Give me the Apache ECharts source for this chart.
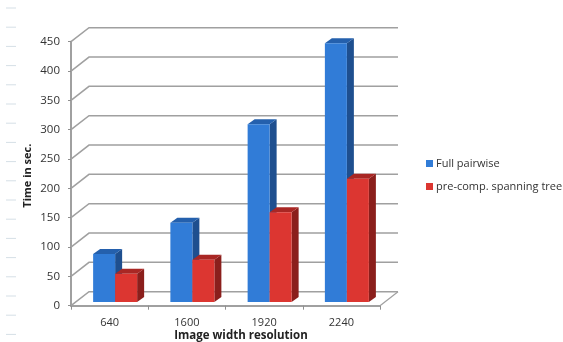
<!DOCTYPE html>
<html>
<head>
<meta charset="utf-8">
<style>html,body{margin:0;padding:0;background:#fff}#chart{width:563px;height:342px}</style>
<script src="https://cdn.jsdelivr.net/npm/echarts@6/dist/echarts.min.js"></script>
</head>
<body>
<div id="chart"></div>
<script>
const categories = ['640', '1600', '1920', '2240'];
const fullPairwise = [82, 135, 303, 441];
const spanningTree = [48, 72, 153, 210];
const valueTicks = [0, 50, 100, 150, 200, 250, 300, 350, 400, 450];
const seriesNames = ['Full pairwise', 'pre-comp. spanning tree'];

const FONT = '"Open Sans", "Noto Sans", sans-serif';
const WALL = { dx: 18, dy: -14 };      // shift from the front plane to the back wall
const BAR = { width: 22, dx: 7, dy: -5, shiftX: 5.5, shiftY: -3.7 };
const PALETTE = [
  { front: '#317cd7', top: '#2460ad', side: '#1e4f8f' },
  { front: '#dc3631', top: '#a92724', side: '#8b1f1c' }
];

// Walls of the 3D box: one polyline per tick, side wall then back wall
function renderWallLine(params, api) {
  const cs = params.coordSys;
  const y = api.coord([0, api.value(0)])[1];
  return {
    type: 'polyline',
    shape: { points: [
      [cs.x, y],
      [cs.x + WALL.dx, y + WALL.dy],
      [cs.x + cs.width + WALL.dx, y + WALL.dy]
    ] },
    style: { fill: 'none', stroke: '#a0a0a0', lineWidth: 1.5 }
  };
}

// Floor edge running from the front axis to the back wall on the right
function renderFloorEdge(params, api) {
  const cs = params.coordSys;
  const y = api.coord([0, 0])[1];
  return {
    type: 'line',
    shape: { x1: cs.x + cs.width, y1: y, x2: cs.x + cs.width + WALL.dx, y2: y + WALL.dy },
    style: { stroke: '#a0a0a0', lineWidth: 1.2 }
  };
}

// One cuboid: front face, top face, side face
function cuboid(seriesIndex) {
  return function (params, api) {
    const colors = PALETTE[seriesIndex];
    const base = api.coord([api.value(0), 0]);
    const head = api.coord([api.value(0), api.value(1)]);
    const x0 = base[0] + BAR.shiftX + (seriesIndex - 1) * BAR.width;
    const x1 = x0 + BAR.width;
    const yb = base[1] + BAR.shiftY;
    const yt = head[1] + BAR.shiftY;
    return {
      type: 'group',
      children: [
        { type: 'polygon', shape: { points: [[x1, yb], [x1 + BAR.dx, yb + BAR.dy], [x1 + BAR.dx, yt + BAR.dy], [x1, yt]] },
          style: { fill: colors.side } },
        { type: 'polygon', shape: { points: [[x0, yt], [x0 + BAR.dx, yt + BAR.dy], [x1 + BAR.dx, yt + BAR.dy], [x1, yt]] },
          style: { fill: colors.top } },
        { type: 'rect', shape: { x: x0, y: yt, width: BAR.width, height: yb - yt },
          style: { fill: colors.front } }
      ]
    };
  };
}

const chart = echarts.init(document.getElementById('chart'), null, { renderer: 'canvas' });

// Faint column of dashes running down the left margin
const marginDashes = [];
for (let i = 0; i < 18; i++) {
  const y = 8 + i * 19.2;
  marginDashes.push({
    type: 'line',
    shape: { x1: 6, y1: y, x2: 16, y2: y },
    style: { stroke: '#d5dfe6', lineWidth: 1 },
    silent: true
  });
}

chart.setOption({
  animation: false,
  backgroundColor: '#ffffff',
  graphic: marginDashes,
  grid: { left: 71, top: 41.7, width: 309, height: 264, outerBoundsMode: 'none' },
  legend: {
    orient: 'vertical',
    left: 421,
    top: 153,
    itemWidth: 7,
    itemHeight: 7,
    itemGap: 12,
    data: seriesNames.map(name => ({ name, icon: 'rect' })),
    textStyle: { fontFamily: FONT, fontSize: 11, color: '#333', padding: [0, 0, 0, -2] }
  },
  xAxis: {
    type: 'category',
    data: categories,
    boundaryGap: true,
    name: 'Image width resolution',
    nameLocation: 'middle',
    nameGap: 24,
    nameMoveOverlap: false,
    nameTextStyle: { fontFamily: FONT, fontSize: 11.5, fontWeight: 'bold', color: '#222', padding: [0, 0, 0, 31] },
    axisLine: { lineStyle: { color: '#a0a0a0', width: 2 } },
    axisTick: { show: true, length: 4, alignWithLabel: false, lineStyle: { color: '#8f8f8f' } },
    axisLabel: { fontFamily: FONT, fontSize: 11, color: '#333', margin: 12 },
    splitLine: { show: false }
  },
  yAxis: {
    type: 'value',
    min: 0,
    max: 450,
    interval: 50,
    name: 'Time in sec.',
    nameLocation: 'middle',
    nameGap: 38,
    nameMoveOverlap: false,
    nameTextStyle: { fontFamily: FONT, fontSize: 11, fontWeight: 'bold', color: '#222', padding: [0, 0, 0, -4] },
    axisLine: { show: true, lineStyle: { color: '#a0a0a0', width: 2 } },
    axisTick: { show: true, length: 3, lineStyle: { color: '#8f8f8f' } },
    axisLabel: { fontFamily: FONT, fontSize: 11.5, color: '#333', margin: 11, padding: [8, 0, 0, 0] },
    splitLine: { show: false }
  },
  series: [
    { type: 'custom', renderItem: renderWallLine, data: valueTicks.map(v => [v]), encode: { y: 0 },
      z: 1, silent: true, clip: false, tooltip: { show: false } },
    { type: 'custom', renderItem: renderFloorEdge, data: [[0]], encode: { y: 0 },
      z: 1, silent: true, clip: false },
    { type: 'custom', name: seriesNames[0], renderItem: cuboid(0),
      data: fullPairwise.map((v, i) => [i, v]), encode: { x: 0, y: 1 },
      itemStyle: { color: PALETTE[0].front }, z: 3, clip: false },
    { type: 'custom', name: seriesNames[1], renderItem: cuboid(1),
      data: spanningTree.map((v, i) => [i, v]), encode: { x: 0, y: 1 },
      itemStyle: { color: PALETTE[1].front }, z: 4, clip: false }
  ]
});
</script>
</body>
</html>
